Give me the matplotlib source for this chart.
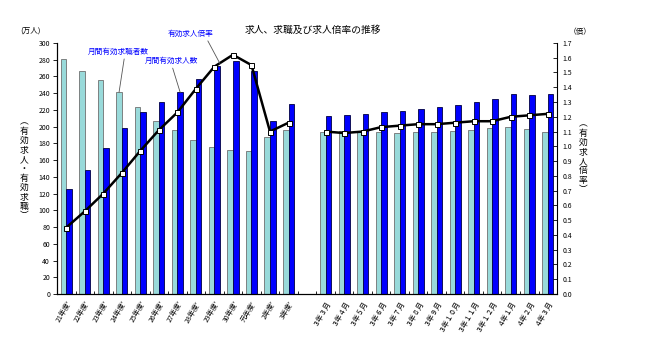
import numpy as np
import matplotlib.pyplot as plt

plt.rcParams['font.family'] = ['Noto Sans CJK JP', 'DejaVu Sans']

# 年度 (月平均) と 月次
nendo = ['21年度ʳ', '22年度ʳ', '23年度ʳ', '24年度ʳ', '25年度ʳ', '26年度ʳ', '27年度ʳ',
         '28年度ʳ', '29年度ʳ', '30年度ʳ', '元年度ʳ', '2年度ʳ', '3年度ʳ']
tsuki = ['３年３月', '３年４月', '３年５月', '３年６月', '３年７月', '３年８月', '３年９月',
         '３年１０月', '３年１１月', '３年１２月', '４年１月', '４年２月', '４年３月']

# 月間有効求職者数 (万人)
kyushoku_nendo = [281, 266, 256, 241, 224, 207, 196, 184, 176, 172, 171, 188, 196]
kyushoku_tsuki = [194, 195, 194, 193, 192, 194, 194, 195, 196, 198, 200, 197, 194]

# 月間有効求人数 (万人)
kyujin_nendo = [126, 148, 174, 198, 218, 230, 241, 257, 273, 278, 266, 207, 227]
kyujin_tsuki = [213, 214, 215, 217, 219, 221, 224, 226, 229, 233, 239, 238, 239]

# 有効求人倍率 (倍)
bairitsu_nendo = [0.45, 0.56, 0.68, 0.82, 0.97, 1.11, 1.23, 1.39, 1.54, 1.62, 1.55, 1.10, 1.16]
bairitsu_tsuki = [1.10, 1.09, 1.10, 1.13, 1.14, 1.15, 1.15, 1.16, 1.17, 1.17, 1.20, 1.21, 1.22]

n1 = len(nendo)
x1 = np.arange(n1)
x2 = np.arange(len(tsuki)) + n1 + 1   # 1 つ空けて月次
xall = np.concatenate([x1, x2])
labels = nendo + tsuki

fig = plt.figure(figsize=(6.5, 3.61), dpi=100)
ax = fig.add_axes([0.0877, 0.1856, 0.7693, 0.6954])
ax2 = ax.twinx()

w = 0.3
cyan = '#99dada'
blue = '#0000ff'

ax.bar(x1 - w / 2, kyushoku_nendo, w, color=cyan, edgecolor='#707070', linewidth=0.6, zorder=2)
ax.bar(x1 + w / 2, kyujin_nendo, w, color=blue, edgecolor='#000040', linewidth=0.6, zorder=2)
ax.bar(x2 - w / 2, kyushoku_tsuki, w, color=cyan, edgecolor='#707070', linewidth=0.6, zorder=2)
ax.bar(x2 + w / 2, kyujin_tsuki, w, color=blue, edgecolor='#000040', linewidth=0.6, zorder=2)

for xx, yy in [(x1, bairitsu_nendo), (x2, bairitsu_tsuki)]:
    ax2.plot(xx, yy, color='black', lw=1.8, marker='s', ms=3.6,
             mfc='white', mec='black', mew=0.7, zorder=3)

ax.set_xlim(-0.5, xall[-1] + 0.5)
ax.set_ylim(0, 300)
ax2.set_ylim(0, 1.7)

ax.set_yticks(np.arange(0, 301, 20))
ax.tick_params(axis='y', labelsize=5, length=3, width=0.6, direction='out', pad=2)
ax2.set_yticks(np.arange(0, 1.71, 0.1))
ax2.set_yticklabels([f'{v:.1f}' for v in np.arange(0, 1.71, 0.1)])
ax2.tick_params(axis='y', labelsize=5, length=3, width=0.6, direction='in', pad=4)

ax.set_xticks(xall)
ax.set_xticklabels(labels, rotation=60, ha='right', va='top', rotation_mode='anchor', fontsize=5)
ax.tick_params(axis='x', length=0, pad=4)
ax.set_xticks(np.arange(-0.5, xall[-1] + 1, 1), minor=True)
ax.tick_params(axis='x', which='minor', length=2.5, width=0.6, direction='in')

for a in (ax, ax2):
    a.spines['top'].set_visible(False)
    for s in a.spines.values():
        s.set_linewidth(0.8)
ax.spines['right'].set_visible(False)

# 注記
line_kw = dict(arrowstyle='-', color='#555555', lw=0.6, shrinkA=0, shrinkB=0)
ax.annotate('月間有効求職者数', xy=(x1[3] - w / 2, kyushoku_nendo[3]), xytext=(2.82, 289),
            ha='center', va='center', fontsize=5.5, color='#0000ff',
            arrowprops=dict(relpos=(0.6, 0), **line_kw), annotation_clip=False)
ax.annotate('月間有効求人数', xy=(x1[6] + w / 2, kyujin_nendo[6]), xytext=(5.7, 278),
            ha='center', va='center', fontsize=5.5, color='#0000ff',
            arrowprops=dict(relpos=(0.5, 0), **line_kw), annotation_clip=False)
ax2.annotate('有効求人倍率', xy=(x1[8] + 0.3, bairitsu_nendo[8] + 0.02), xytext=(6.7, 1.76),
             ha='center', va='center', fontsize=5.5, color='#0000ff',
             arrowprops=dict(relpos=(0.85, 0), **line_kw), annotation_clip=False)

fig.text(0.482, 0.917, '求人、求職及び求人倍率の推移', ha='center', va='center', fontsize=7)
fig.text(0.047, 0.914, '(万人)', ha='center', va='center', fontsize=5.5)
fig.text(0.893, 0.911, '（倍）', ha='center', va='center', fontsize=5.5)

vl = '\n'.join('︵有効求人・有効求職︶')
fig.text(0.037, 0.532, vl, ha='center', va='center', fontsize=6.3, linespacing=1.05)
vr = '\n'.join('︵有効求人倍率︶')
fig.text(0.897, 0.566, vr, ha='center', va='center', fontsize=6.3, linespacing=1.05)

fig.savefig('out.png', dpi=100, facecolor='white')
